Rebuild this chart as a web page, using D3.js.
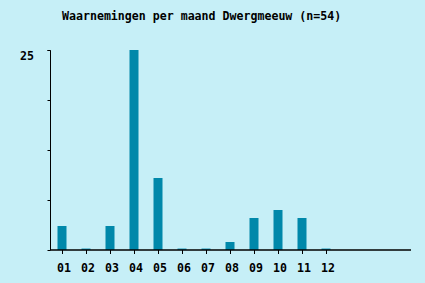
<!DOCTYPE html>
<html>
<head>
<meta charset="utf-8">
<script src="https://cdn.jsdelivr.net/npm/d3@7"></script>
<style>
	body { margin: 0; background: #c6eff7; }
	svg { display: block; }
	text { font-family: 'DejaVu Sans Mono', monospace; font-weight: bold; font-size: 11.6px; fill: #000; }
</style>
</head>
<body>
<svg width="425" height="283"></svg>
<script>
(function(){
	'use strict';

	const months = ['01', '02', '03', '04', '05', '06', '07', '08', '09', '10', '11', '12'];
	const counts = [3, 0, 3, 25, 9, 0, 0, 1, 4, 5, 4, 0];
	const slots = d3.range(15);
	const yMax = 25;
	const yTicks = [0, 6.25, 12.5, 18.75, 25];
	const title = 'Waarnemingen per maand Dwergmeeuw (n=54)';

	const svg = d3.select('svg');
	const width = 425;
	const height = 283;

	svg.append('rect')
		.attr('width', width)
		.attr('height', height)
		.attr('fill', '#c6eff7');

	const x = d3.scaleBand()
		.domain(slots)
		.range([50, 410]);

	const y = d3.scaleLinear()
		.domain([0, yMax])
		.range([250, 50]);

	svg.append('text')
		.attr('x', 62)
		.attr('y', 20)
		.text(title);

	// bars
	svg.append('g')
		.selectAll('rect')
		.data(counts)
		.join('rect')
			.attr('x', (d, i) => x(i) + x.bandwidth() / 2 - 4.5)
			.attr('width', 9)
			.attr('y', d => d > 0 ? y(d) : y(0) - 1.5)
			.attr('height', d => d > 0 ? y(0) - y(d) : 1.5)
			.attr('fill', d => d > 0 ? '#0088aa' : '#1a99bb');

	// y axis
	const yAxis = svg.append('g')
		.attr('transform', 'translate(50.5,0)')
		.call(d3.axisLeft(y).tickValues(yTicks).tickSize(3).tickFormat(''));
	yAxis.select('.domain').attr('d', `M-3,${y(yMax) + 0.5}H0V${y(0)}`);

	svg.append('text')
		.attr('x', 20)
		.attr('y', 60)
		.text(yMax);

	// x axis
	svg.append('line')
		.attr('x1', 50)
		.attr('x2', 411)
		.attr('y1', 250)
		.attr('y2', 250)
		.attr('stroke', '#000')
		.attr('stroke-width', 1.5);

	const xg = svg.append('g');
	xg.selectAll('line')
		.data(months)
		.join('line')
			.attr('x1', (d, i) => x(i) + x.bandwidth() / 2 + 0.5)
			.attr('x2', (d, i) => x(i) + x.bandwidth() / 2 + 0.5)
			.attr('y1', 250)
			.attr('y2', 254)
			.attr('stroke', '#000');
	xg.selectAll('text')
		.data(months)
		.join('text')
			.attr('x', (d, i) => x(i) + x.bandwidth() / 2 + 2)
			.attr('y', 272)
			.attr('text-anchor', 'middle')
			.text(d => d);
})();
</script>
</body>
</html>
